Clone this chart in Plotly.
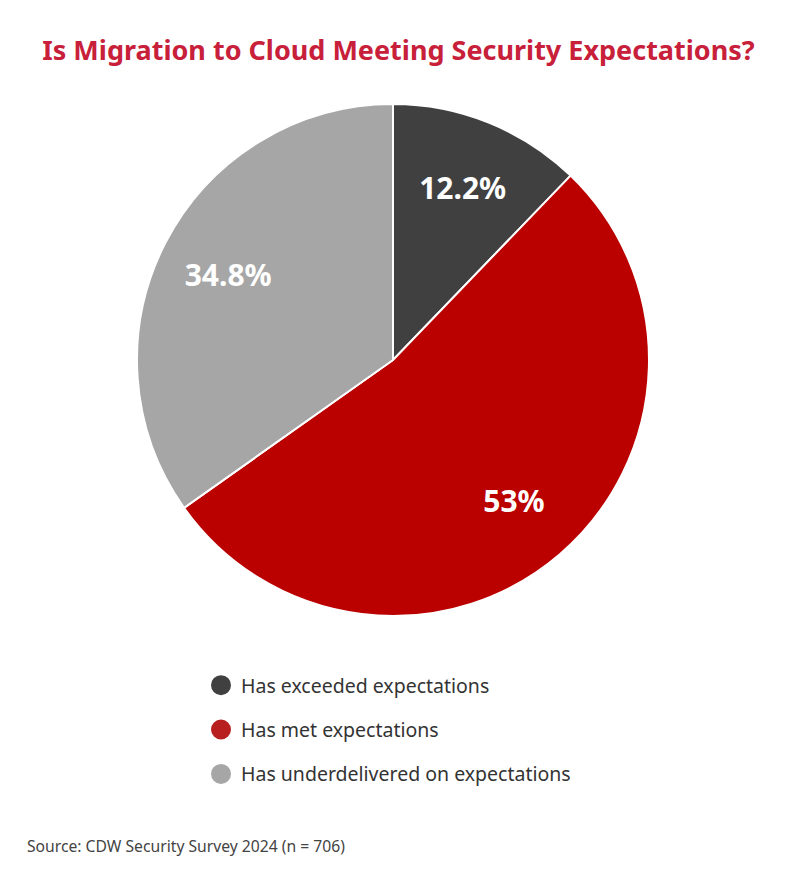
import plotly.graph_objects as go

# data
labels = ["Has exceeded expectations", "Has met expectations", "Has underdelivered on expectations"]
values = [12.2, 53.0, 34.8]
slice_text = ["12.2%", "53%", "34.8%"]
colors = ["#404040", "#bb0000", "#a6a6a6"]
legend_colors = ["#404040", "#b8201f", "#a6a6a6"]

W, H = 801, 876
FONT = "Noto Sans"
# page body has an 8px margin, so positions below are shifted by that
pie_domain = {"x": [129 / W, 641 / W], "y": [1 - 608 / H, 1 - 96 / H]}

fig = go.Figure()

# filled slices
fig.add_trace(
    go.Pie(
        labels=labels,
        values=values,
        textinfo="none",
        marker={"colors": colors, "line": {"color": "white", "width": 2}},
        sort=False,
        direction="clockwise",
        rotation=0,
        showlegend=False,
        hoverinfo="label+percent",
        domain=pie_domain,
    )
)

# transparent ring on top, only to push the labels further out
fig.add_trace(
    go.Pie(
        labels=labels,
        values=values,
        text=slice_text,
        textinfo="text",
        textposition="inside",
        insidetextorientation="horizontal",
        insidetextfont={"color": "white", "size": 30, "family": FONT, "weight": "bold"},
        hole=0.45,
        marker={"colors": ["rgba(0,0,0,0)"] * 3, "line": {"width": 0}},
        sort=False,
        direction="clockwise",
        rotation=0,
        showlegend=False,
        hoverinfo="skip",
        domain=pie_domain,
    )
)

# dummy traces for round legend markers (line adds a bit of size, legend caps marker size)
for i, (lab, col) in enumerate(zip(labels, legend_colors)):
    fig.add_trace(
        go.Scatter(
            x=[None],
            y=[None],
            mode="markers",
            marker={"size": 16, "color": col, "symbol": "circle", "line": {"color": col, "width": 4}},
            name=lab,
            legendgroup=f"g{i}",
            showlegend=True,
        )
    )

fig.update_layout(
    width=W,
    height=H,
    margin={"l": 0, "r": 0, "t": 0, "b": 0},
    paper_bgcolor="white",
    plot_bgcolor="white",
    xaxis={"visible": False},
    yaxis={"visible": False},
    title={
        "text": "<b>Is Migration to Cloud Meeting Security Expectations?</b>",
        "x": 390.5 / W,
        "xanchor": "center",
        "y": 1 - 43 / H,
        "yanchor": "middle",
        "font": {"size": 27, "color": "#c8203a", "family": FONT},
    },
    legend={
        "x": 193 / W,
        "xanchor": "left",
        "y": 1 - 658 / H,
        "yanchor": "top",
        "font": {"size": 19.5, "color": "#333333", "family": FONT},
        "traceorder": "grouped",
        "tracegroupgap": 16,
        "itemsizing": "trace",
        "bgcolor": "rgba(0,0,0,0)",
    },
    annotations=[
        {
            "text": "Source: CDW Security Survey 2024 (n = 706)",
            "x": 17 / W,
            "xanchor": "left",
            "y": 1 - 838 / H,
            "yanchor": "middle",
            "xref": "paper",
            "yref": "paper",
            "showarrow": False,
            "font": {"size": 15.7, "color": "#444444", "family": FONT},
        }
    ],
)

fig.write_html("out.html")
